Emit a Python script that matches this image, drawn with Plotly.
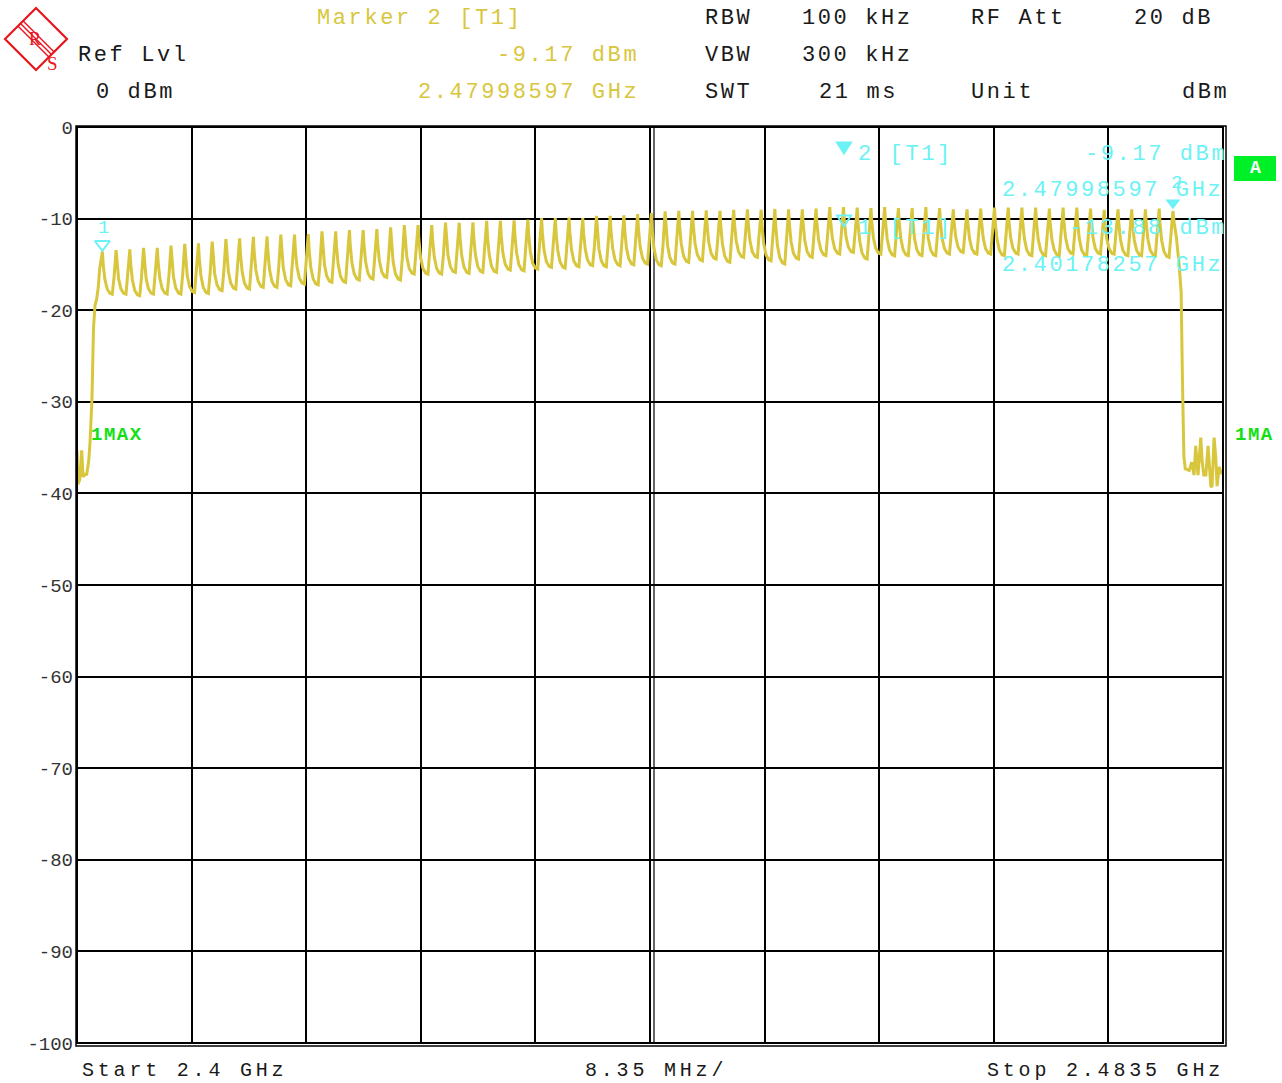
import plotly.graph_objects as go

# ---------------- data ----------------
START_MHZ = 2400.0
STOP_MHZ = 2483.5
DIV_MHZ = 8.35
channel_mhz = list(range(2402, 2481))          # 79 hopping channels
sweep_offset_mhz = -0.15                        # display offset of the peaks

peak_dbm = [
    -13.60, -13.45, -13.35, -13.20, -13.20, -12.95, -12.75, -12.70, -12.50, -12.25,
    -12.15, -12.00, -11.95, -11.75, -11.75, -11.70, -11.40, -11.40, -11.25, -11.25,
    -11.15, -10.95, -10.70, -10.70, -10.70, -10.45, -10.45, -10.40, -10.25, -10.25,
    -10.20, -10.10, -9.95, -9.95, -9.90, -9.95, -9.70, -9.70, -9.65, -9.50,
    -9.40, -9.20, -9.15, -9.15, -9.10, -9.15, -9.05, -9.00, -9.05, -8.95,
    -9.00, -9.00, -8.90, -8.75, -8.75, -8.80, -8.85, -8.75, -8.85, -8.85,
    -8.75, -8.85, -9.00, -9.00, -8.90, -8.80, -8.80, -8.80, -8.80, -8.90,
    -8.80, -8.80, -8.90, -9.05, -9.00, -9.00, -9.00, -8.90, -9.17]

trough_dbm = [
    -18.24, -18.24, -18.42, -18.24, -18.24, -18.24, -18.06, -18.17, -17.87, -17.69,
    -17.69, -17.51, -17.51, -17.33, -17.15, -17.22, -16.96, -16.96, -16.71, -16.60,
    -16.42, -16.71, -16.05, -16.05, -16.05, -15.87, -15.98, -15.87, -15.87, -15.62,
    -15.69, -15.51, -15.33, -15.40, -15.26, -15.14, -15.26, -15.14, -15.04, -14.96,
    -15.14, -14.96, -14.78, -14.60, -14.42, -14.78, -14.23, -14.23, -14.60, -14.96,
    -14.42, -14.23, -14.05, -13.87, -13.69, -14.42, -13.87, -14.05, -14.05, -14.05,
    -14.05, -13.87, -13.69, -13.87, -13.87, -14.05, -13.87, -14.05, -14.05, -14.05,
    -13.87, -14.05, -13.87, -13.87, -14.05, -14.05, -14.05, -14.23]

lead_mhz = [2400.0, 2400.07, 2400.2, 2400.34, 2400.44, 2400.6, 2400.71, 2400.85,
            2400.95, 2401.09, 2401.2, 2401.31, 2401.43, 2401.55, 2401.65]
lead_dbm = [-35.3, -39.0, -38.5, -35.3, -38.2, -37.9, -37.9, -36.5,
            -34.4, -29.7, -22.0, -19.5, -18.8, -17.5, -15.5]

tail_mhz = [2479.95, 2480.1, 2480.3, 2480.45, 2480.55, 2480.65, 2480.75, 2481.04,
            2481.22, 2481.39, 2481.51, 2481.68, 2481.88, 2481.98, 2482.1, 2482.25,
            2482.41, 2482.61, 2482.7, 2482.85, 2482.97, 2483.07, 2483.22, 2483.41]
tail_dbm = [-10.5, -12.0, -15.0, -18.0, -28.0, -36.0, -37.3, -37.5,
            -36.6, -38.0, -34.8, -38.0, -33.9, -36.5, -38.0, -38.0,
            -34.8, -39.2, -39.3, -33.9, -36.0, -39.2, -37.1, -37.9]

y_tick_vals = [0, -10, -20, -30, -40, -50, -60, -70, -80, -90, -100]
y_tick_text = ["0", "-10", "-20", "-30", "-40", "-50", "-60", "-70", "-80", "-90", "-100"]

marker1 = dict(mhz=2401.78257, dbm=-13.88)
marker2 = dict(mhz=2479.98597, dbm=-9.17)

# ---------------- build trace ----------------
# shape of one hop: offset after the peak (MHz) and fraction of peak-to-trough depth
SHAPE_OFF = [0.06, 0.18, 0.35, 0.55, 0.72, 0.85]
SHAPE_FRAC = [0.3, 0.65, 0.88, 0.98, 1.0, 0.6]

xs = list(lead_mhz)
ys = list(lead_dbm)
for k, ch in enumerate(channel_mhz):
    f = ch + sweep_offset_mhz
    p = peak_dbm[k]
    xs.append(f)
    ys.append(p)
    if k < len(trough_dbm):
        t = trough_dbm[k]
        for o, fr in zip(SHAPE_OFF, SHAPE_FRAC):
            xs.append(f + o)
            ys.append(p - fr * (p - t))
xs += tail_mhz
ys += tail_dbm

# ---------------- layout geometry ----------------
FW, FH = 1282, 1083
L, T, R, B = 77, 127, 1223, 1043
W, H = R - L, B - T


def px(x):
    return (x - L) / W


def py(y):
    return 1 - (y - T) / H


YEL = "#D8C63C"
CYAN = "#6CF2F5"
GREEN = "#12E012"
BLACK = "#1a1a1a"
FONT = "Liberation Mono"

fig = go.Figure()
fig.add_trace(go.Scatter(x=xs, y=ys, mode="lines",
                         line=dict(color=YEL, width=3), hoverinfo="skip",
                         showlegend=False))

# markers on trace
p0 = peak_dbm[0]
p78 = peak_dbm[-1]
fig.add_trace(go.Scatter(x=[channel_mhz[0] + sweep_offset_mhz], y=[p0 + 0.8], mode="markers",
                         marker=dict(symbol="triangle-down-open", size=13, color=CYAN,
                                     line=dict(width=2, color=CYAN)),
                         showlegend=False, hoverinfo="skip"))
fig.add_trace(go.Scatter(x=[channel_mhz[-1] + sweep_offset_mhz], y=[p78 + 0.9], mode="markers",
                         marker=dict(symbol="triangle-down", size=13, color=CYAN),
                         showlegend=False, hoverinfo="skip"))

ann = []


def label(text, x, y, color, anchor="left", size=22, spacing=2.6, bold=False):
    t = f'<span style="letter-spacing:{spacing}px">{text}</span>'
    if bold:
        t = "<b>" + t + "</b>"
    ann.append(dict(text=t, x=px(x), y=py(y), xref="paper", yref="paper",
                    xanchor=anchor, yanchor="middle", showarrow=False,
                    borderpad=0,
                    font=dict(family=FONT, size=size, color=color)))


# header
label("Marker 2 [T1]", 316, 18, YEL)
label(f"{marker2['dbm']:.2f} dBm", 640, 55, YEL, anchor="right")
label(f"{marker2['mhz']/1000:.8f} GHz", 640, 92, YEL, anchor="right")
label("Ref Lvl", 77, 55, BLACK)
label("0 dBm", 95, 92, BLACK)
label("RBW", 704, 18, BLACK)
label("100 kHz", 801, 18, BLACK)
label("RF Att", 970, 18, BLACK)
label("20 dB", 1214, 18, BLACK, anchor="right")
label("VBW", 704, 55, BLACK)
label("300 kHz", 801, 55, BLACK)
label("SWT", 704, 92, BLACK)
label("21 ms", 818, 92, BLACK)
label("Unit", 970, 92, BLACK)
label("dBm", 1230, 92, BLACK, anchor="right")

# footer
label("Start 2.4 GHz", 81, 1070, BLACK, size=20, spacing=3.8)
label("8.35 MHz/", 584, 1070, BLACK, size=20, spacing=3.8)
label("Stop 2.4835 GHz", 1225, 1070, BLACK, anchor="right", size=20, spacing=3.8)

# marker readouts inside plot
label("2 [T1]", 857, 155, CYAN)
label(f"{marker2['dbm']:.2f} dBm", 1228, 155, CYAN, anchor="right")
label(f"{marker2['mhz']/1000:.8f} GHz", 1224, 191, CYAN, anchor="right")
label("1 [T1]", 857, 228, CYAN)
label(f"{marker1['dbm']:.2f} dBm", 1228, 228, CYAN, anchor="right")
label(f"{marker1['mhz']/1000:.8f} GHz", 1224, 265, CYAN, anchor="right")
label("1", 97, 228, CYAN, size=19, spacing=0)
label("2", 1170, 183, CYAN, size=19, spacing=0)

# trace labels
label("1MAX", 90, 435, GREEN, size=19, spacing=1.5, bold=True)
label("1MA", 1234, 435, GREEN, size=19, spacing=1.5, bold=True)

shapes = []
# "A" box
shapes.append(dict(type="rect", xref="paper", yref="paper",
                   x0=px(1234), x1=px(1276), y0=py(181), y1=py(156),
                   fillcolor="#00F028", line=dict(width=0)))
ann.append(dict(text="<b>A</b>", x=px(1255), y=py(168.5), xref="paper", yref="paper",
                showarrow=False, xanchor="center", yanchor="middle",
                font=dict(family=FONT, size=18, color="white")))


# marker legend triangles inside plot
def tri(cx, cy, w, h, filled):
    path = (f"M {px(cx - w/2)},{py(cy - h/2)} L {px(cx + w/2)},{py(cy - h/2)} "
            f"L {px(cx)},{py(cy + h/2)} Z")
    return dict(type="path", xref="paper", yref="paper", path=path,
                fillcolor=CYAN if filled else "rgba(0,0,0,0)",
                line=dict(color=CYAN, width=2))


shapes.append(tri(844, 148, 14, 11, True))
shapes.append(tri(844, 221, 14, 11, False))

# frame (double border)
shapes.append(dict(type="rect", xref="paper", yref="paper", x0=0, x1=1, y0=0, y1=1,
                   line=dict(color="black", width=2), layer="above"))
shapes.append(dict(type="rect", xref="paper", yref="paper",
                   x0=px(L - 1), x1=px(R + 3), y0=py(B + 3), y1=py(T - 1),
                   line=dict(color="black", width=1.5), layer="above"))
# double centre line
shapes.append(dict(type="line", xref="paper", yref="paper", x0=px(654), x1=px(654), y0=0, y1=1,
                   line=dict(color="black", width=1.2), layer="below"))

# R&S logo
RED = "#E8161C"
shapes.append(dict(type="path", xref="paper", yref="paper",
                   path=f"M {px(5)},{py(39)} L {px(36)},{py(8)} L {px(67)},{py(39)} L {px(36)},{py(70)} Z",
                   line=dict(color=RED, width=2.2), fillcolor="rgba(0,0,0,0)"))
for d in (-2.6, 0, 2.6):
    shapes.append(dict(type="line", xref="paper", yref="paper",
                       x0=px(20.5 + d), y0=py(23.5 - d), x1=px(51.5 + d), y1=py(54.5 - d),
                       line=dict(color=RED, width=1.4)))
ann.append(dict(text="R", x=px(27), y=py(27), xref="paper", yref="paper", showarrow=False,
                font=dict(family="Liberation Serif", size=18, color=RED)))
ann.append(dict(text="S", x=px(45), y=py(51), xref="paper", yref="paper", showarrow=False,
                font=dict(family="Liberation Serif", size=19, color=RED)))

grid_x = [START_MHZ + i * DIV_MHZ for i in range(11)]

fig.update_layout(
    width=FW, height=FH,
    margin=dict(l=L, r=FW - R, t=T, b=FH - B, pad=0),
    paper_bgcolor="white", plot_bgcolor="white",
    showlegend=False,
    annotations=ann, shapes=shapes,
    xaxis=dict(range=[START_MHZ, STOP_MHZ], tickvals=grid_x, showticklabels=False,
               showgrid=True, gridcolor="black", gridwidth=1.6, zeroline=False,
               showline=False, ticks=""),
    yaxis=dict(range=[-100, 0], tickvals=y_tick_vals, ticktext=y_tick_text,
               showgrid=True, gridcolor="black", gridwidth=1.6, zeroline=False,
               showline=False, ticks="", ticklabelstandoff=3,
               tickfont=dict(family=FONT, size=19, color="#333333")),
)

fig.write_html("out.html")
